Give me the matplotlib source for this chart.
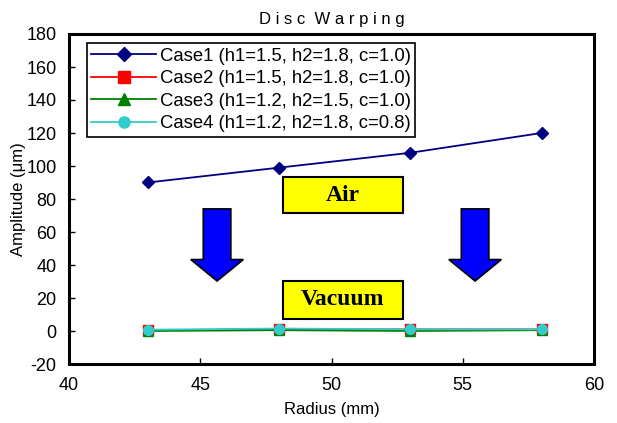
import matplotlib
matplotlib.use("Agg")
import matplotlib.pyplot as plt
from matplotlib.patches import FancyArrow, Rectangle

radius = [43, 48, 53, 58]
case1 = [90, 99, 108, 120]
case2 = [0.5, 1.0, 1.0, 1.0]
case3 = [0.0, 0.5, 0.0, 0.5]
case4 = [0.8, 1.5, 1.0, 1.0]
labels = ["Case1 (h1=1.5, h2=1.8, c=1.0)",
          "Case2 (h1=1.5, h2=1.8, c=1.0)",
          "Case3 (h1=1.2, h2=1.5, c=1.0)",
          "Case4 (h1=1.2, h2=1.8, c=0.8)"]

plt.rcParams['font.family'] = ['Liberation Sans', 'DejaVu Sans']
plt.rcParams['axes.unicode_minus'] = False

fig = plt.figure(figsize=(6.17, 4.23), dpi=100)
ax = fig.add_axes([69/617, 1-364/423, 525/617, 330/423])

ax.plot(radius, case1, color='#000080', marker='D', ms=6, lw=1.3, label=labels[0])
ax.plot(radius, case2, color='red', marker='s', ms=7, lw=1.3,
        mfc='red', mec='red', label=labels[1])
ax.plot(radius, case3, color='green', marker='^', ms=7, lw=1.3, label=labels[2])
ax.plot(radius, case4, color='#33CCCC', marker='o', ms=7, lw=1.3, label=labels[3])

ax.set_xlim(40, 60)
ax.set_ylim(-20, 180)
ax.set_xticks(range(40, 61, 5))
ax.set_yticks(range(-20, 181, 20))
ax.tick_params(direction='in', length=4, width=1, labelsize=13, pad=9)
for s in ax.spines.values():
    s.set_linewidth(2.2)

ax.set_title("D i s c  W a r p i n g", fontsize=12, pad=7)
ax.set_xlabel("Radius (mm)", fontsize=12, labelpad=6)
ax.set_ylabel("Amplitude (μm)", fontsize=12, labelpad=0)

leg = ax.legend(loc='upper left', bbox_to_anchor=(0.034, 0.973), fontsize=13.3,
                frameon=True, fancybox=False, edgecolor='black', framealpha=1,
                handlelength=3.5, handletextpad=0.2, borderpad=0.25,
                labelspacing=0.3, borderaxespad=0, markerscale=1.15)
leg.get_frame().set_linewidth(1.2)

# Air / Vacuum labels
for y0, y1, txt in [(71.5, 93.3, "Air"), (7.3, 30.3, "Vacuum")]:
    ax.add_patch(Rectangle((48.15, y0), 4.57, y1 - y0, facecolor='yellow',
                           edgecolor='black', lw=1.5, zorder=3))
    ax.text(50.43, (y0 + y1) / 2, txt, ha='center', va='center',
            fontsize=17, fontweight='bold', family='Liberation Serif', zorder=4)

# downward arrows
for xc in [45.64, 55.47]:
    ax.add_patch(FancyArrow(xc, 74, 0, -43.7, width=1.05, head_width=2.0,
                            head_length=13, length_includes_head=True,
                            facecolor='#0000FF', edgecolor='black', lw=1.2,
                            zorder=3))

fig.savefig("out.png", dpi=100)
